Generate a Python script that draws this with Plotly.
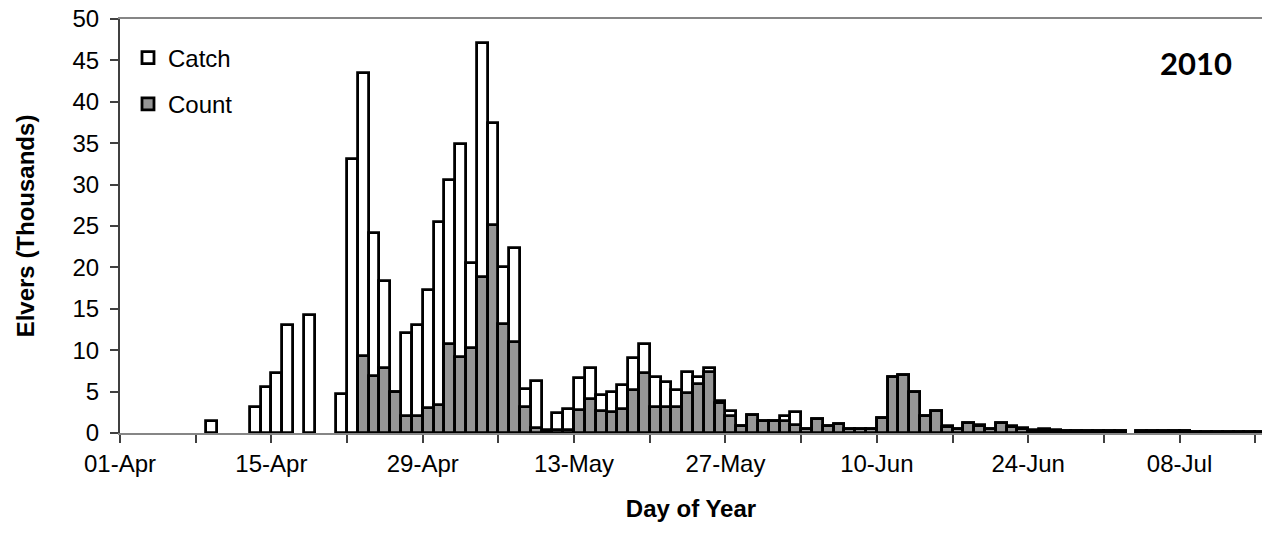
import plotly.graph_objects as go
import pandas as pd

# Daily values (thousands of elvers), one entry per day starting 01-Apr-2010
start_date = "2010-04-01"
catch = [
    None, None, None, None, None, None, None,      # 01-07 Apr
    None, 1.4, None, None, None, 3.2, 5.5,          # 08-14 Apr
    7.2, 13.0, None, 14.3, None, None, 4.75,        # 15-21 Apr
    33.1, 43.5, 24.2, 18.3, 5.0, 12.1, 13.1,        # 22-28 Apr
    17.3, 25.5, 30.5, 34.9, 20.5, 47.1, 37.4,       # 29 Apr-05 May
    20.0, 22.3, 5.3, 6.3, 0.4, 2.4, 2.9,            # 06-12 May
    6.6, 7.9, 4.6, 4.9, 5.8, 9.1, 10.7,             # 13-19 May
    6.8, 6.2, 5.2, 7.4, 6.8, 7.9, 3.9,              # 20-26 May
    2.6, 0.8, 2.2, 1.5, 1.5, 2.0, 2.5,              # 27 May-02 Jun
    0.5, 1.7, 0.8, 1.1, 0.5, 0.5, 0.5,              # 03-09 Jun
    1.8, 6.8, 7.0, 4.9, 2.1, 2.7, 0.9,              # 10-16 Jun
    0.5, 1.2, 1.0, 0.5, 1.2, 0.9, 0.6,              # 17-23 Jun
    0.4, 0.45, 0.4, 0.25, 0.25, 0.2, 0.2,           # 24-30 Jun
    0.2, 0.2, None, 0.3, 0.3, 0.3, 0.3,             # 01-07 Jul
    0.3, 0.1, 0.1, 0.1, 0.1, 0.1, 0.1,              # 08-14 Jul
    0.1,                                            # 15 Jul
]
count = [
    None, None, None, None, None, None, None,
    None, None, None, None, None, None, None,
    None, None, None, None, None, None, None,
    None, 9.3, 6.9, 7.8, 5.0, 2.0, 2.1,
    3.0, 3.4, 10.7, 9.2, 10.3, 18.8, 25.1,
    13.2, 11.0, 3.2, 0.6, 0.3, 0.35, 0.35,
    2.8, 4.1, 2.7, 2.5, 2.9, 5.2, 7.2,
    3.1, 3.1, 3.1, 4.8, 5.9, 7.4, 3.6,
    2.0, 0.8, 2.2, 1.5, 1.5, 1.5, 1.0,
    0.5, 1.7, 0.8, 1.1, 0.5, 0.5, 0.5,
    1.8, 6.8, 7.0, 4.9, 2.1, 2.7, 0.7,
    0.5, 1.2, 0.8, 0.5, 1.2, 0.7, 0.5,
    0.3, 0.3, 0.3, 0.2, 0.2, 0.2, 0.2,
    0.2, 0.2, None, 0.25, 0.25, 0.25, 0.25,
    0.25, 0.1, 0.1, 0.1, 0.1, 0.1, 0.1,
    0.1,
]
dates = pd.date_range(start_date, periods=len(catch), freq="D")

series_names = ["Catch", "Count"]
year_label = "2010"
x_title = "Day of Year"
y_title = "Elvers (Thousands)"

DAY_MS = 86400000
FONT = "Liberation Sans, Arial, sans-serif"

fig = go.Figure()
fig.add_trace(go.Bar(
    x=dates, y=catch, name=series_names[0], legendgroup="a",
    xperiod=DAY_MS, xperiodalignment="middle",
    marker=dict(color="#ffffff", line=dict(color="#000000", width=2.8)),
))
fig.add_trace(go.Bar(
    x=dates, y=count, name=series_names[1], legendgroup="b",
    xperiod=DAY_MS, xperiodalignment="middle",
    marker=dict(color="#969696", line=dict(color="#000000", width=2.8)),
))

fig.update_layout(
    width=1262, height=537,
    margin=dict(l=120, r=0, t=19, b=104),
    paper_bgcolor="white", plot_bgcolor="white",
    barmode="overlay", bargap=0,
    font=dict(family=FONT, size=24, color="#000000"),
    showlegend=True,
    legend=dict(x=0.007, y=0.96, xanchor="left", yanchor="top",
                bgcolor="rgba(0,0,0,0)", font=dict(size=24),
                tracegroupgap=12, itemwidth=30),
    annotations=[dict(text="<b>%s</b>" % year_label, x=0.942, y=0.894,
                      xref="paper", yref="paper", xanchor="center", yanchor="middle",
                      showarrow=False, font=dict(family="Lato, Open Sans, sans-serif", size=31))],
)
fig.update_xaxes(
    type="date",
    range=["2010-04-01", "2010-07-15 15:00"],
    tick0="2010-04-01", dtick=14 * DAY_MS, tickformat="%d-%b",
    ticks="outside", ticklen=8, tickwidth=1.5, tickcolor="#404040",
    minor=dict(tick0="2010-04-01", dtick=7 * DAY_MS, ticks="outside",
               ticklen=8, tickwidth=1.5, tickcolor="#404040"),
    showline=True, linecolor="#868686", linewidth=2, mirror=True,
    showgrid=False, zeroline=False,
    title=dict(text="<b>%s</b>" % x_title, font=dict(size=24), standoff=24),
)
fig.update_yaxes(
    range=[0, 50], dtick=5, tick0=0,
    ticks="outside", ticklen=8, tickwidth=1.5, tickcolor="#404040",
    ticklabelstandoff=6,
    showline=True, linecolor="#404040", linewidth=2,
    showgrid=False, zeroline=False,
    title=dict(text="<b>%s</b>" % y_title, font=dict(size=24), standoff=31),
)

fig.write_html("out.html")
